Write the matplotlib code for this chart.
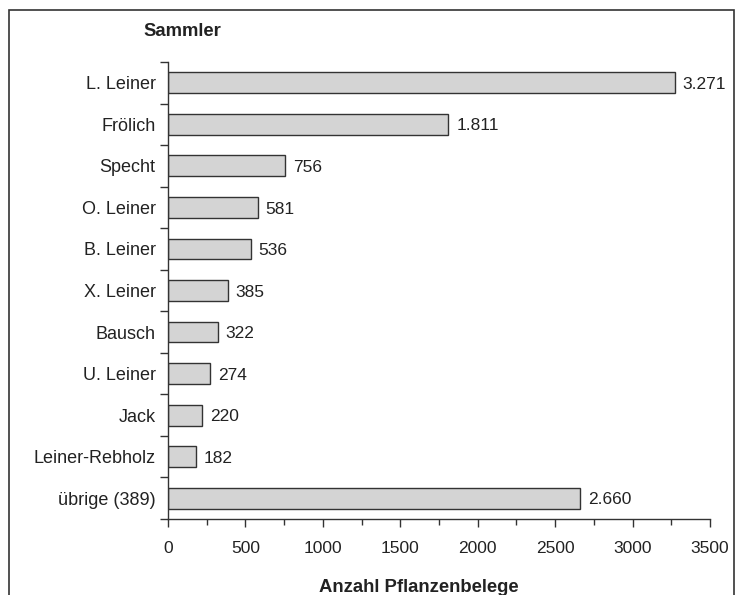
import matplotlib.pyplot as plt
from matplotlib.patches import Rectangle
from matplotlib.ticker import MultipleLocator

plt.rcParams['font.family'] = ['Liberation Sans', 'DejaVu Sans']

sammler = ["L. Leiner", "Frölich", "Specht", "O. Leiner", "B. Leiner", "X. Leiner",
           "Bausch", "U. Leiner", "Jack", "Leiner-Rebholz", "übrige (389)"]
belege = [3271, 1811, 756, 581, 536, 385, 322, 274, 220, 182, 2660]

fig = plt.figure(figsize=(7.36, 5.95), dpi=100)
ax = fig.add_axes([0.2283, 0.1277, 0.7364, 0.7681])

pos = list(range(len(sammler)))
ax.barh(pos, belege, height=0.5, color="#d4d4d4", edgecolor="#333333", linewidth=1)
ax.set_ylim(len(sammler) - 0.5, -0.5)
ax.set_xlim(0, 3500)

for y, v in zip(pos, belege):
    txt = f"{v:,}".replace(",", ".")
    ax.text(v + 50, y + 0.04, txt, va="center", ha="left", fontsize=12.5, color="#222222")

# category ticks sit between the bars
ax.set_yticks([p - 0.5 for p in pos] + [len(sammler) - 0.5])
ax.set_yticklabels([])
ax.set_yticks(pos, minor=True)
ax.set_yticklabels(sammler, minor=True, fontsize=13, color="#222222")
ax.tick_params(axis="y", which="minor", length=0, pad=9)
ax.tick_params(axis="y", which="major", length=6, width=1, color="#333333")

ax.xaxis.set_major_locator(MultipleLocator(500))
ax.xaxis.set_minor_locator(MultipleLocator(250))
ax.tick_params(axis="x", which="major", length=6, width=1, color="#333333",
               labelsize=12.5, labelcolor="#222222", pad=10)
ax.tick_params(axis="x", which="minor", length=4, width=1, color="#333333")

for s in ["top", "right"]:
    ax.spines[s].set_visible(False)
for s in ["left", "bottom"]:
    ax.spines[s].set_color("#333333")
    ax.spines[s].set_linewidth(1)

fig.text(182 / 736, 1 - 32 / 595, "Sammler", fontsize=13.3, fontweight="bold",
         ha="center", va="center", color="#222222")
fig.text(419 / 736, 1 - 588 / 595, "Anzahl Pflanzenbelege", fontsize=13.3, fontweight="bold",
         ha="center", va="center", color="#222222")

# frame around the whole chart
fig.patches.append(Rectangle((9 / 736, -0.02), 725 / 736, 1 - 10 / 595 + 0.02,
                             transform=fig.transFigure, fill=False,
                             edgecolor="#333333", linewidth=1.2))

fig.savefig("out.png", dpi=100)
